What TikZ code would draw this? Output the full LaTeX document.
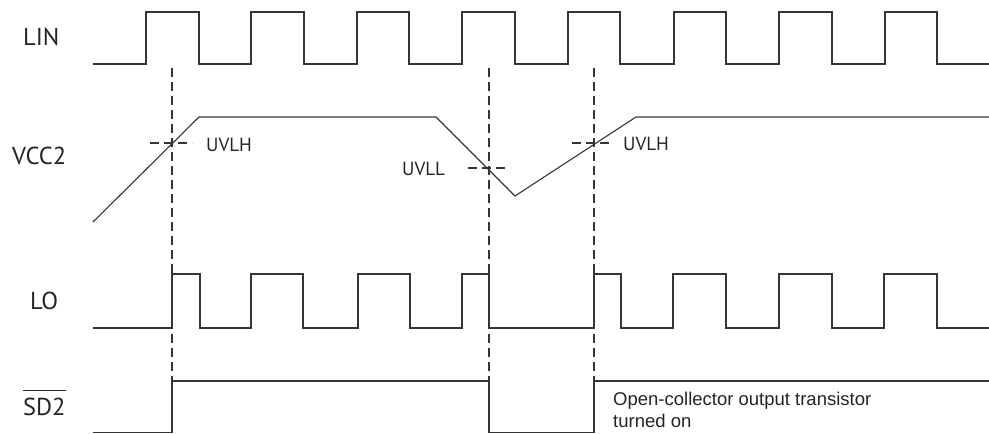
\documentclass[tikz,border=0pt]{standalone}
\usepackage{fontspec}
\setmainfont{Liberation Sans}
\newfontfamily\lblfont{PT Sans}
\definecolor{wavecol}{HTML}{353535}
\definecolor{txtcol}{HTML}{262324}
\begin{document}
\begin{tikzpicture}[x=1pt,y=-1pt,
  wave/.style={line width=1.3pt, draw=wavecol, line join=miter},
  ramp/.style={line width=1.1pt, draw=wavecol, line join=miter},
  guide/.style={line width=1.3pt, draw=wavecol, dash pattern=on 9pt off 5pt},
  sig/.style={font=\lblfont\fontsize{24.5}{24.5}\selectfont, text=txtcol, inner sep=0pt, anchor=base west},
  lvl/.style={font=\lblfont\fontsize{19}{19}\selectfont, text=txtcol, inner sep=0pt, anchor=base west},
  note/.style={font=\fontsize{18.5}{21.5}\selectfont, text=txtcol, inner sep=0pt, anchor=base west, align=left},
]
\useasboundingbox (0,0) rectangle (989,434);

% signal labels
\node[sig] (lin) at (23,45.7) {LIN};
\node[sig] (vcc) at (12,164) {VCC2};
\node[sig] (lo) at (30,309) {LO};
\node[sig] (sd) at (23,415) {SD2};
\draw[line width=1.6pt, draw=txtcol] ([yshift=7pt]sd.north west) -- ([yshift=7pt]sd.north east);

% guide lines
\draw[guide] (172,68) -- (172,381);
\draw[guide] (489,68) -- (489,381);
\draw[guide] (594,68) -- (594,381);
\draw[guide] (150,143) -- (192,143);
\draw[guide] (468,168) -- (510,168);
\draw[guide] (572,143) -- (613,143);

% level labels
\node[lvl] (uvlh1) at (206,151) {UVLH};
\node[lvl] (uvll) at (402,175.5) {UVLL};
\node[lvl] (uvlh2) at (623,150.5) {UVLH};

% LIN
\draw[wave] (93,64) -- (146,64) -- (146,12) -- (199,12) -- (199,64) -- (251,64) -- (251,12) -- (304,12) -- (304,64) -- (357,64) -- (357,12) -- (409,12) -- (409,64) -- (462,64) -- (462,12) -- (515,12) -- (515,64) -- (568,64) -- (568,12) -- (620,12) -- (620,64) -- (674,64) -- (674,12) -- (726,12) -- (726,64) -- (779,64) -- (779,12) -- (832,12) -- (832,64) -- (885,64) -- (885,12) -- (937,12) -- (937,64) -- (989,64);

% VCC2
\draw[ramp] (93,222) -- (199,117) -- (436,117) -- (515,196) -- (636,117) -- (989,117);

% LO
\draw[wave] (93,328) -- (172,328) -- (172,274) -- (200,274) -- (200,328) -- (251,328) -- (251,274) -- (303,274) -- (303,328) -- (358,328) -- (358,274) -- (410,274) -- (410,328) -- (462,328) -- (462,274) -- (489,274) -- (489,328) -- (594,328) -- (594,274) -- (621,274) -- (621,328) -- (673,328) -- (673,274) -- (726,274) -- (726,328) -- (779,328) -- (779,274) -- (832,274) -- (832,328) -- (884,328) -- (884,274) -- (937,274) -- (937,328) -- (989,328);

% SD2
\draw[wave] (93,432.6) -- (172,432.6) -- (172,381) -- (489,381) -- (489,432.6) -- (594,432.6) -- (594,381) -- (989,381);

% note
\node[note] (note) at (613,427) {Open-collector output transistor\\turned on};
\end{tikzpicture}
\end{document}
